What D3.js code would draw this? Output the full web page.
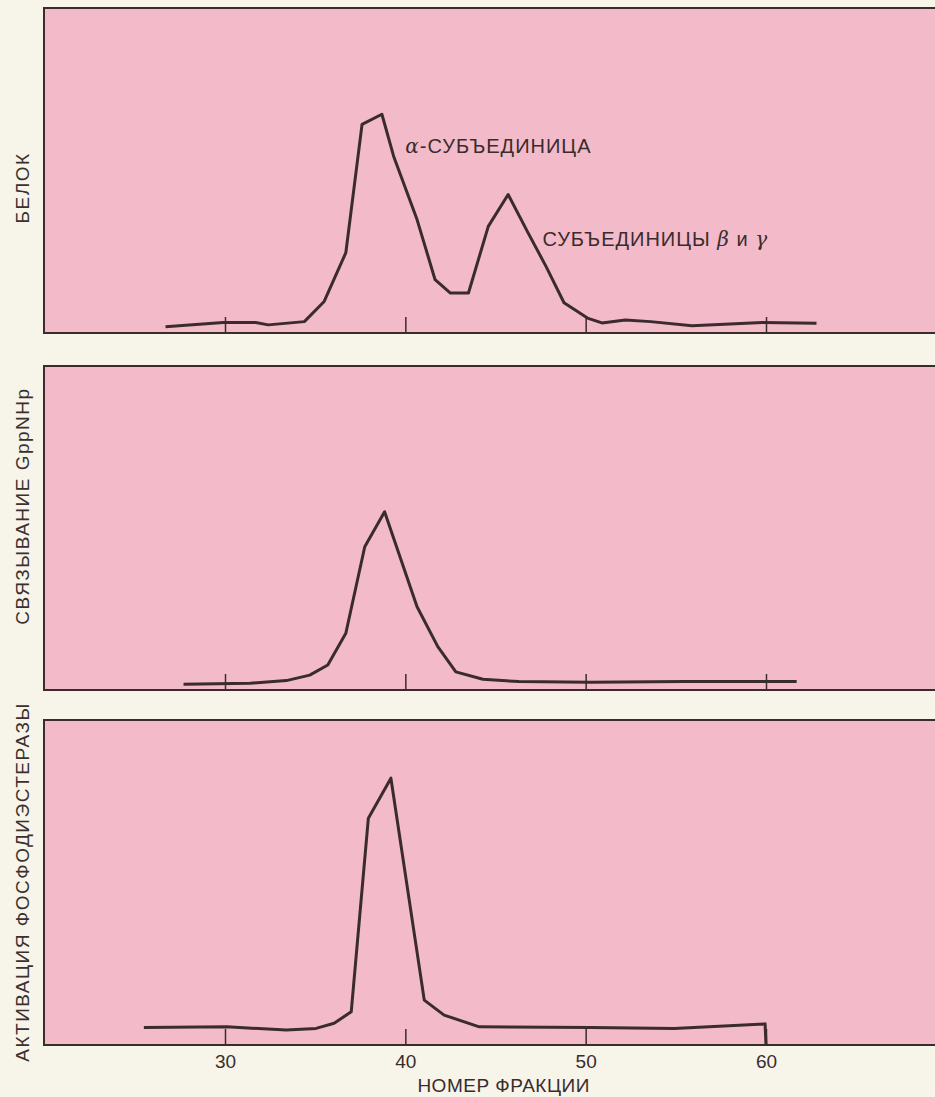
<!DOCTYPE html>
<html>
<head>
<meta charset="utf-8">
<script src="https://cdn.jsdelivr.net/npm/d3@7"></script>
<style>
  body { margin: 0; background: #f7f4e9; }
  svg { display: block; }
  .sans { font-family: "Liberation Sans", Arial, Helvetica, sans-serif; }
  .ylab { font-family: "Liberation Sans", Arial, sans-serif; font-size: 19px; letter-spacing: 1.5px; fill: #3b2f30; }
</style>
</head>
<body>
<div id="chart"></div>
<script>
(function() {
  var width = 935,
      height = 1097,
      left = 44;

  // fraction number -> protein (arbitrary units, 0..100 of panel height)
  var proteinX = [26.7, 29.9, 31.7, 32.4, 34.4, 35.5, 36.7, 37.6, 38.7, 39.35, 40.65, 41.65, 42.5, 43.5, 44.6, 45.7, 46.8, 47.8, 48.8, 50.1, 50.9, 52.2, 53.6, 55.9, 59.8, 62.8];
  var proteinY = [1.9, 3.2, 3.2, 2.5, 3.5, 9.7, 24.7, 64.2, 67.3, 54.4, 34.9, 16.4, 12.3, 12.3, 32.8, 42.6, 30.9, 20.5, 9.3, 4.6, 3.1, 4.0, 3.5, 2.2, 3.2, 3.0];

  var bindingX = [27.7, 31.4, 33.4, 34.7, 35.7, 36.7, 37.75, 38.85, 40.65, 41.8, 42.8, 44.3, 46.3, 50.2, 55.5, 61.7];
  var bindingY = [1.8, 2.1, 2.9, 4.6, 7.7, 17.5, 44.2, 55.0, 25.7, 13.4, 5.6, 3.3, 2.6, 2.4, 2.6, 2.6];

  var activationX = [25.5, 30.1, 33.4, 35.05, 36.05, 37.0, 37.95, 39.2, 41.05, 42.15, 44.1, 50.25, 54.9, 59.95, 60.0];
  var activationY = [5.4, 5.6, 4.6, 5.1, 6.7, 10.2, 69.8, 82.1, 13.8, 9.2, 5.6, 5.4, 5.1, 6.5, 0];

  var tickValues = [30, 40, 50, 60];
  var xLabel = "НОМЕР ФРАКЦИИ";

  var panels = [
    {label: "БЕЛОК", xs: proteinX, ys: proteinY, top: 8, bottom: 333, labelY: 188},
    {label: "СВЯЗЫВАНИЕ GppNHp", xs: bindingX, ys: bindingY, top: 366, bottom: 690, labelY: 506},
    {label: "АКТИВАЦИЯ ФОСФОДИЭСТЕРАЗЫ", xs: activationX, ys: activationY, top: 720, bottom: 1045, labelY: 882}
  ];

  var svg = d3.select("#chart")
    .append("svg")
    .attr("width", width)
    .attr("height", height);

  var x = d3.scaleLinear()
    .domain([30, 60])
    .range([225, 766]);

  var ink = "#3a2c2d";

  panels.forEach(function(p, i) {
    var y = d3.scaleLinear()
      .domain([0, 100])
      .range([p.bottom, p.top]);

    var g = svg.append("g").attr("class", "panel");

    g.append("rect")
      .attr("x", left)
      .attr("y", p.top)
      .attr("width", width - left + 5)
      .attr("height", p.bottom - p.top)
      .attr("fill", "#f3bac9");

    // top, left and bottom border (right side runs off the page)
    g.append("path")
      .attr("d", "M" + (width + 5) + "," + p.top + "H" + left + "V" + p.bottom + "H" + (width + 5))
      .attr("fill", "none")
      .attr("stroke", ink)
      .attr("stroke-width", 2);

    var axis = d3.axisBottom(x)
      .tickValues(tickValues)
      .tickSizeInner(-16)
      .tickSizeOuter(0)
      .tickPadding(10)
      .tickFormat(i === 2 ? d3.format("d") : "");

    var ax = g.append("g")
      .attr("transform", "translate(0," + p.bottom + ")")
      .call(axis);
    ax.select(".domain").remove();
    ax.selectAll(".tick line").attr("stroke", ink).attr("stroke-width", 1.5);
    ax.selectAll(".tick text")
      .attr("class", "sans")
      .attr("font-size", 19)
      .attr("fill", ink);

    var line = d3.line()
      .x(function(d) { return x(d[0]); })
      .y(function(d) { return y(d[1]); });

    g.append("path")
      .datum(d3.zip(p.xs, p.ys))
      .attr("d", line)
      .attr("fill", "none")
      .attr("stroke", ink)
      .attr("stroke-width", 3)
      .attr("stroke-linejoin", "round");

    g.append("text")
      .attr("class", "ylab")
      .attr("transform", "translate(29," + p.labelY + ") rotate(-90)")
      .attr("text-anchor", "middle")
      .text(p.label);

    if (i === 0) {
      var t1 = g.append("text")
        .attr("class", "sans")
        .attr("x", x(40))
        .attr("y", y(55.5))
        .attr("font-size", 20)
        .attr("letter-spacing", 1)
        .attr("fill", ink);
      t1.append("tspan").attr("font-family", "DejaVu Serif, serif").attr("font-style", "italic").text("α");
      t1.append("tspan").text("-СУБЪЕДИНИЦА");

      var t2 = g.append("text")
        .attr("class", "sans")
        .attr("x", x(47.6))
        .attr("y", y(26.8))
        .attr("font-size", 20)
        .attr("letter-spacing", 1)
        .attr("fill", ink);
      t2.append("tspan").text("СУБЪЕДИНИЦЫ ");
      t2.append("tspan").attr("font-family", "DejaVu Serif, serif").attr("font-style", "italic").text("β");
      t2.append("tspan").text(" и ");
      t2.append("tspan").attr("font-family", "DejaVu Serif, serif").attr("font-style", "italic").text("γ");
    }
  });

  svg.append("text")
    .attr("class", "sans")
    .attr("x", x(45.45))
    .attr("y", 1092)
    .attr("text-anchor", "middle")
    .attr("font-size", 19)
    .attr("letter-spacing", 0.5)
    .attr("fill", ink)
    .text(xLabel);
})();
</script>
</body>
</html>
